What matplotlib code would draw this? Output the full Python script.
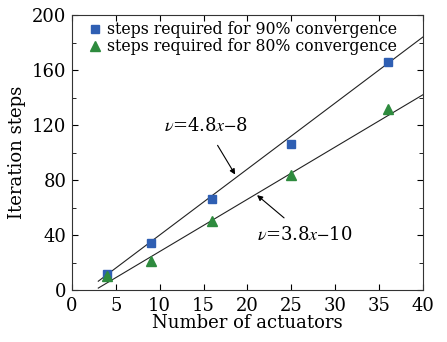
import matplotlib
matplotlib.use("Agg")
import matplotlib.pyplot as plt
import numpy as np
from matplotlib.ticker import MultipleLocator

plt.rcParams['font.family'] = ['DejaVu Serif']
plt.rcParams['mathtext.fontset'] = 'stix'

actuators = [4, 9, 16, 25, 36]
steps90 = [12, 34, 66, 106, 166]
steps80 = [10, 21, 50, 84, 132]
fit_x = [3, 40]
fit90 = (4.8, -8)
fit80 = (3.8, -10)

fig = plt.figure(figsize=(4.47, 3.42), dpi=100)
ax = fig.add_axes([0.161, 0.152, 0.785, 0.804])

fx = np.array(fit_x, dtype=float)
ax.plot(fx, fit90[0] * fx + fit90[1], color='#222222', lw=0.8)
ax.plot(fx, fit80[0] * fx + fit80[1], color='#222222', lw=0.8)
ax.plot(actuators, steps90, ls='none', marker='s', ms=6, color='#2f5fb3',
        label='steps required for 90% convergence')
ax.plot(actuators, steps80, ls='none', marker='^', ms=7, color='#2e8b3e',
        label='steps required for 80% convergence')

ax.annotate(r'$\nu$=4.8$x$$-$8', xy=(18.6, 84), xytext=(15.3, 119),
            ha='center', va='center', fontsize=13,
            arrowprops=dict(arrowstyle='-|>', color='black', lw=0.8,
                            shrinkA=6, shrinkB=0, mutation_scale=8))
ax.annotate(r'$\nu$=3.8$x$$-$10', xy=(21.1, 69), xytext=(26.5, 40),
            ha='center', va='center', fontsize=13,
            arrowprops=dict(arrowstyle='-|>', color='black', lw=0.8,
                            shrinkA=6, shrinkB=0, mutation_scale=8))

ax.set_xlim(0, 40)
ax.set_ylim(0, 200)
ax.xaxis.set_major_locator(MultipleLocator(5))
ax.yaxis.set_major_locator(MultipleLocator(40))
ax.yaxis.set_minor_locator(MultipleLocator(20))
ax.tick_params(which='both', direction='in', top=True, right=True, labelsize=13)
ax.tick_params(axis='x', pad=5)
ax.tick_params(axis='y', pad=4)
ax.tick_params(which='major', length=4)
ax.tick_params(which='minor', length=3)
for s in ax.spines.values():
    s.set_linewidth(0.8)
    s.set_color('#333333')

ax.set_xlabel('Number of actuators', fontsize=13, labelpad=-1)
ax.set_ylabel('Iteration steps', fontsize=13, labelpad=4)

ax.legend(loc='upper left', frameon=False, fontsize=11.3, handletextpad=0.2,
          borderaxespad=0.0, labelspacing=0.0, handlelength=1.2,
          bbox_to_anchor=(0.02, 1.0))

fig.savefig('out.png', dpi=100)
